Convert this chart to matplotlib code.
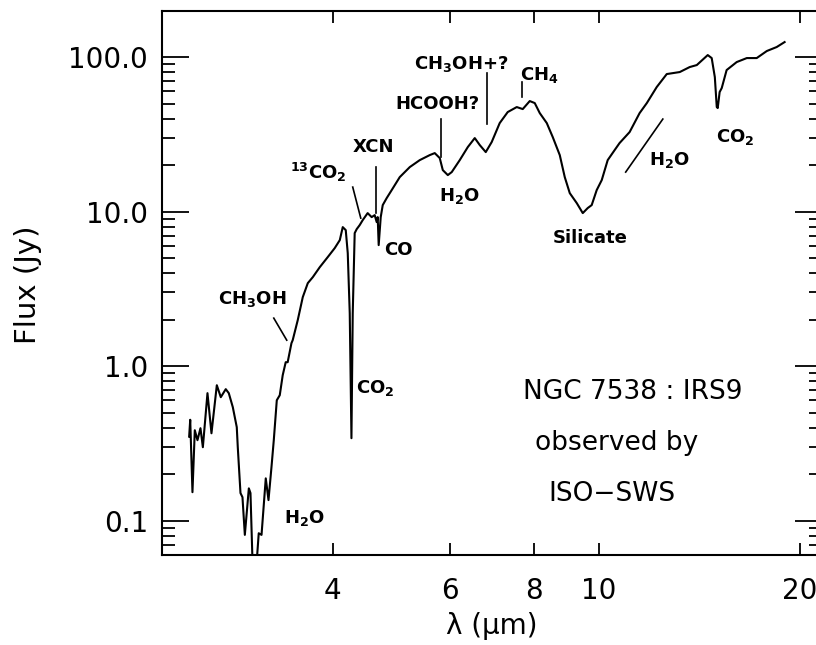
import matplotlib
matplotlib.use('Agg')
import matplotlib.pyplot as plt
from matplotlib.ticker import LogLocator, NullFormatter, NullLocator

plt.rcParams['font.family'] = ['DejaVu Sans']
plt.rcParams['mathtext.default'] = 'bf'

# ISO-SWS spectrum of NGC 7538 : IRS9
wavelength = [2.438, 2.447, 2.466, 2.486, 2.509, 2.535, 2.556, 2.597, 2.633, 2.682,
              2.719, 2.766, 2.795, 2.834, 2.873, 2.883, 2.910, 2.930, 2.954, 2.995,
              3.012, 3.033, 3.078, 3.099, 3.129, 3.175, 3.205, 3.238, 3.264, 3.298,
              3.332, 3.366, 3.401, 3.424, 3.469, 3.484, 3.545, 3.607, 3.670, 3.734,
              3.825, 3.931, 4.027, 4.098, 4.140, 4.183, 4.212, 4.241, 4.266, 4.285,
              4.314, 4.344, 4.389, 4.435, 4.511, 4.574, 4.622, 4.654, 4.670, 4.686,
              4.719, 4.752, 4.817, 4.901, 5.039, 5.216, 5.399, 5.588, 5.685, 5.784,
              5.845, 5.947, 6.028, 6.197, 6.371, 6.526, 6.640, 6.778, 6.918, 7.112,
              7.311, 7.542, 7.700, 7.888, 8.025, 8.165, 8.365, 8.539, 8.748, 8.900,
              9.055, 9.276, 9.470, 9.632, 9.766, 9.936, 10.11, 10.32, 10.57, 10.75,
              11.13, 11.52, 11.81, 12.22, 12.65, 13.23, 13.69, 14.03, 14.57, 14.77,
              14.93, 15.03, 15.08, 15.18, 15.29, 15.55, 16.10, 16.67, 17.25, 17.86,
              18.48, 18.99]
flux = [0.35, 0.45, 0.153, 0.385, 0.332, 0.397, 0.299, 0.669, 0.368, 0.753,
        0.630, 0.710, 0.669, 0.543, 0.403, 0.299, 0.151, 0.142, 0.081, 0.162,
        0.151, 0.055, 0.055, 0.083, 0.081, 0.188, 0.136, 0.222, 0.332, 0.602,
        0.649, 0.874, 1.061, 1.061, 1.409, 1.473, 1.985, 2.797, 3.445, 3.768,
        4.373, 5.077, 5.805, 6.540, 7.938, 7.592, 5.388, 2.203, 0.342, 2.203,
        7.259, 7.703, 8.178, 8.810, 9.779, 9.213, 9.491, 8.551, 9.213, 6.071,
        9.213, 11.02, 12.23, 13.78, 16.72, 19.41, 21.54, 23.21, 23.91, 22.20,
        18.56, 17.23, 18.02, 21.54, 26.15, 29.91, 26.94, 24.27, 28.17, 37.40,
        44.06, 47.47, 46.07, 51.91, 50.39, 43.40, 37.40, 30.35, 23.21, 16.72,
        13.17, 11.35, 9.78, 10.54, 11.02, 13.78, 15.99, 21.54, 25.01, 27.76,
        32.71, 43.40, 50.39, 63.96, 77.62, 79.98, 86.14, 88.75, 103.0, 98.5,
        74.2, 47.47, 46.77, 59.36, 63.02, 82.39, 92.82, 98.5, 98.5, 109.4,
        116.1, 125.0]

xtick_values = [4, 6, 8, 10, 20]
xtick_labels = ['4', '6', '8', '10', '20']
ytick_values = [0.1, 1, 10, 100]
ytick_labels = ['0.1', '1.0', '10.0', '100.0']

fig = plt.figure(figsize=(8.16, 6.45), dpi=100)
ax = fig.add_axes([0.1985, 0.1395, 0.8088, 0.8434])

ax.plot(wavelength, flux, color='black', lw=1.5)

ax.set_xscale('log')
ax.set_yscale('log')
ax.set_xlim(2.22, 21.6)
ax.set_ylim(0.06, 198.5)

ax.set_xticks(xtick_values, labels=xtick_labels)
ax.xaxis.set_minor_locator(NullLocator())
ax.set_yticks(ytick_values, labels=ytick_labels)
ax.yaxis.set_minor_locator(LogLocator(base=10, subs=range(2, 10)))
ax.yaxis.set_minor_formatter(NullFormatter())

ax.tick_params(which='both', direction='in', top=True, right=True,
               width=1.3, labelsize=20)
ax.tick_params(axis='x', which='major', length=8.6, pad=16)
ax.tick_params(axis='y', which='major', length=19.4, pad=10)
ax.tick_params(axis='y', which='minor', length=9.4)
for s in ax.spines.values():
    s.set_linewidth(1.5)

ax.set_xlabel('λ (μm)', fontsize=20)
ax.xaxis.set_label_coords(0.5, -0.105)
ax.set_ylabel('Flux (Jy)', fontsize=21)
ax.yaxis.set_label_coords(-0.182, 0.496)

# feature labels
lab = dict(fontsize=13, fontweight='bold', ha='center', va='center')
ax.text(3.035, 2.71, 'CH$_3$OH', **lab)
ax.text(3.80, 18.0, '$^{13}$CO$_2$', **lab)
ax.text(4.606, 26.2, 'XCN', **lab)
ax.text(5.02, 5.63, 'CO', **lab)
ax.text(4.33, 0.72, 'CO$_2$', fontsize=13, fontweight='bold', ha='left', va='center')
ax.text(3.632, 0.104, 'H$_2$O', **lab)
ax.text(5.744, 49.6, 'HCOOH?', **lab)
ax.text(6.219, 90.1, 'CH$_3$OH+?', **lab)
ax.text(8.165, 76.5, 'CH$_4$', **lab)
ax.text(6.197, 12.6, 'H$_2$O', **lab)
ax.text(9.70, 6.74, 'Silicate', **lab)
ax.text(12.78, 21.5, 'H$_2$O', **lab)
ax.text(16.04, 30.35, 'CO$_2$', **lab)

# pointer lines
lk = dict(color='black', lw=1.2)
ax.plot([3.264, 3.413], [2.046, 1.473], **lk)
ax.plot([4.285, 4.405], [14.41, 9.08], **lk)
ax.plot([4.638, 4.638], [19.41, 9.78], **lk)
ax.plot([5.804, 5.804], [39.7, 22.53], **lk)
ax.plot([6.80, 6.80], [78.8, 36.8], **lk)
ax.plot([7.67, 7.67], [68.9, 55.1], **lk)
ax.plot([10.98, 12.48], [18.02, 39.7], **lk)

src = dict(fontsize=19, ha='center', va='center', transform=ax.transAxes)
ax.text(0.7136, 0.2996, 'NGC 7538 : IRS9', **src)
ax.text(0.689, 0.206, 'observed by', **src)
ax.text(0.682, 0.112, 'ISO\u2212SWS', **src)

fig.savefig('out.png', dpi=100)
